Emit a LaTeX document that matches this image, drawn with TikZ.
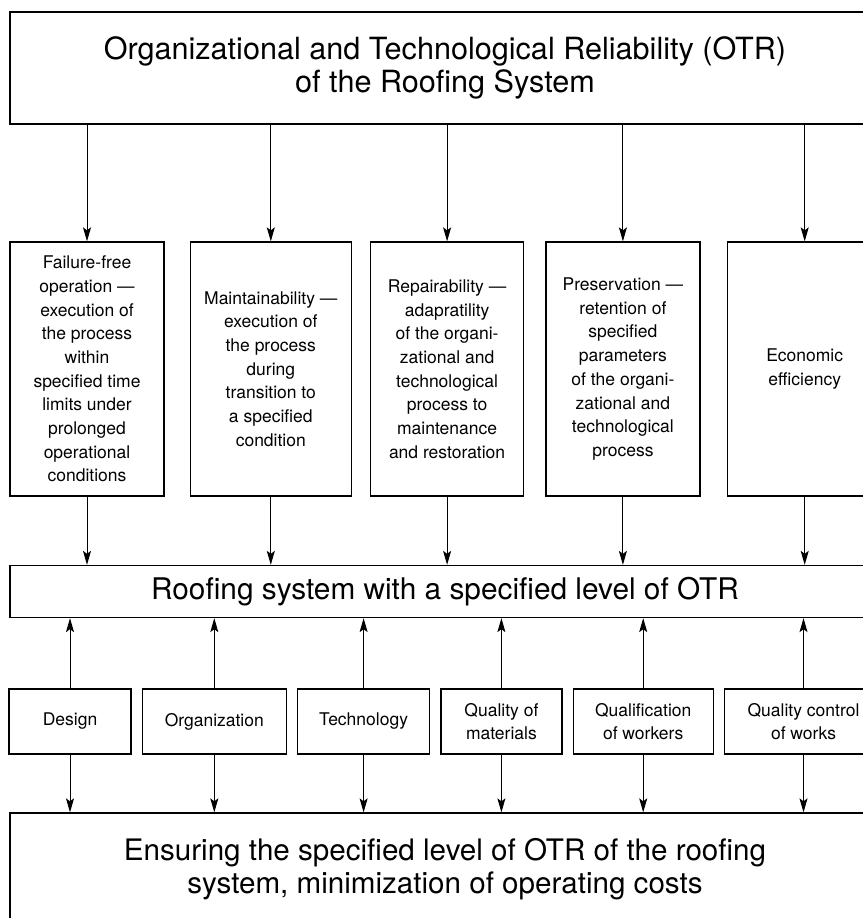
\documentclass[tikz,border=0pt]{standalone}
\usepackage{fontspec}
\setmainfont{TeX Gyre Heros}
\usetikzlibrary{shapes,arrows.meta,positioning}
\tikzstyle{wide} = [rectangle, draw, line width=1.3pt, minimum width=870pt, minimum height=112pt, align=center, font=\fontsize{29.6}{33}\selectfont]
\tikzstyle{block} = [rectangle, draw, line width=1.3pt, minimum height=254pt, inner sep=2pt, align=center, font=\fontsize{17.5}{23.7}\selectfont]
\tikzstyle{factor} = [rectangle, draw, line width=1.3pt, minimum height=65pt, inner sep=2pt, align=center, font=\fontsize{17.5}{23.7}\selectfont]
\tikzstyle{line} = [draw, line width=1pt, -{Stealth[length=14pt,width=8pt,inset=3pt]}]

\begin{document}
\begin{tikzpicture}[x=1pt, y=-1pt]
				    \useasboundingbox (0,0) rectangle (862,918);
				    % Place nodes
				    \node [wide, font=\fontsize{30.6}{33}\selectfont] (otr) at (445,68) {Organizational and Technological Reliability (OTR)\\of the Roofing System};
				    \node [block, minimum width=154pt] (fail) at (87,369) {Failure-free\\operation ---\\execution of\\the process\\within\\specified time\\limits under\\prolonged\\operational\\conditions};
				    \node [block, minimum width=161pt, right=25pt of fail] (maint) {Maintainability ---\\execution of\\the process\\during\\transition to\\a specified\\condition};
				    \node [block, minimum width=153pt, right=18pt of maint] (repair) {Repairability ---\\adapratility\\of the organi-\\zational and\\technological\\process to\\maintenance\\and restoration};
				    \node [block, minimum width=154pt, right=21pt of repair] (preserv) {Preservation ---\\retention of\\specified\\parameters\\of the organi-\\zational and\\technological\\process};
				    \node [block, minimum width=155pt, right=26pt of preserv] (econ) {Economic\\efficiency};
				    \node [wide, minimum height=52pt, font=\fontsize{29.8}{33}\selectfont] (level) at (445,591.5) {Roofing system with a specified level of OTR};
				    \node [factor, minimum width=122pt] (design) at (70,721.5) {Design};
				    \node [factor, minimum width=144pt, right=10pt of design] (organ) {Organization};
				    \node [factor, minimum width=132pt, right=10pt of organ] (techn) {Technology};
				    \node [factor, minimum width=121pt, right=10pt of techn] (mater) {Quality of\\materials};
				    \node [factor, minimum width=140pt, right=10pt of mater] (work) {Qualification\\of workers};
				    \node [factor, minimum width=158pt, right=10pt of work] (contr) {Quality control\\of works};
				    \node [wide] (ensure) at (445,869) {Ensuring the specified level of OTR of the roofing\\system, minimization of operating costs};
				    % Draw edges
				    \path [line] (otr.south -| fail.north) -- (fail.north);
				    \path [line] (otr.south -| maint.north) -- (maint.north);
				    \path [line] (otr.south -| repair.north) -- (repair.north);
				    \path [line] (otr.south -| preserv.north) -- (preserv.north);
				    \path [line] (otr.south -| econ.north) -- (econ.north);
				    \path [line] (fail.south) -- (fail.south |- level.north);
				    \path [line] (maint.south) -- (maint.south |- level.north);
				    \path [line] (repair.south) -- (repair.south |- level.north);
				    \path [line] (preserv.south) -- (preserv.south |- level.north);
				    \path [line] (econ.south) -- (econ.south |- level.north);
				    \path [line] (design.north) -- (design.north |- level.south);
				    \path [line] (organ.north) -- (organ.north |- level.south);
				    \path [line] (techn.north) -- (techn.north |- level.south);
				    \path [line] (mater.north) -- (mater.north |- level.south);
				    \path [line] (work.north) -- (work.north |- level.south);
				    \path [line] (contr.north) -- (contr.north |- level.south);
				    \path [line] (design.south) -- (design.south |- ensure.north);
				    \path [line] (organ.south) -- (organ.south |- ensure.north);
				    \path [line] (techn.south) -- (techn.south |- ensure.north);
				    \path [line] (mater.south) -- (mater.south |- ensure.north);
				    \path [line] (work.south) -- (work.south |- ensure.north);
				    \path [line] (contr.south) -- (contr.south |- ensure.north);
\end{tikzpicture}
\end{document}
